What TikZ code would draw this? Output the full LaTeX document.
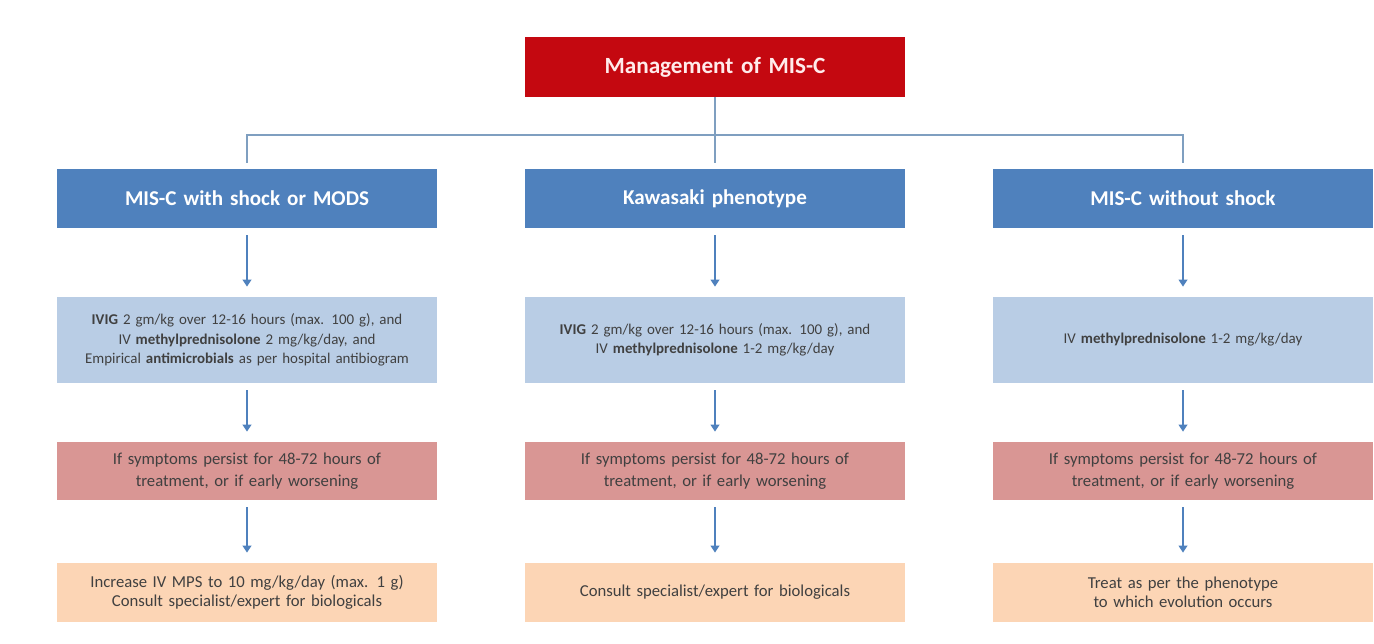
\documentclass[tikz,border=0pt]{standalone}
\usepackage{fontspec}
\setmainfont{Carlito}
\usetikzlibrary{arrows.meta}
\definecolor{titlered}{RGB}{196,8,16}
\definecolor{headblue}{RGB}{79,129,189}
\definecolor{rxblue}{RGB}{185,205,229}
\definecolor{ifpink}{RGB}{217,150,148}
\definecolor{nextpeach}{RGB}{252,213,181}
\definecolor{busgray}{RGB}{127,159,192}
\definecolor{txtgray}{RGB}{64,64,64}
\begin{document}
\begin{tikzpicture}[
  box/.style = {minimum width = 7.6cm, text width = 7.4cm, align = center, inner sep = 0pt},
  titlebox/.style = {box, fill = titlered, text = white!92!red, minimum height = 1.2cm, font = \fontsize{13.2}{15}\selectfont\bfseries},
  headbox/.style = {box, fill = headblue, text = white, minimum height = 1.18cm, font = \fontsize{12}{14}\selectfont\bfseries},
  rxbox/.style = {box, fill = rxblue, text = txtgray, minimum height = 1.72cm, font = \fontsize{8.5}{11}\selectfont},
  ifbox/.style = {box, fill = ifpink, text = txtgray, minimum height = 1.16cm, font = \fontsize{9.5}{12.5}\selectfont},
  nextbox/.style = {box, fill = nextpeach, text = txtgray, minimum height = 1.18cm, font = \fontsize{9.5}{10.8}\selectfont},
  bus/.style = {draw = busgray, line width = 0.8pt},
  flow/.style = {draw = headblue, line width = 0.8pt, -{Triangle[width = 5pt, length = 4pt]}, shorten < = 0.14cm, shorten > = 0.2cm}
]
\useasboundingbox (0,0) rectangle (27.48,12.86);
\node[titlebox] at (14.30,11.52) (misc) {Management of MIS-C};
\node[headbox] at (4.94,8.89) (shock) {MIS-C with shock or MODS};
\node[headbox] at (14.30,8.89) (kawa) {Kawasaki phenotype};
\node[headbox] at (23.66,8.89) (noshock) {MIS-C without shock};
\node[rxbox] at (4.94,6.06) (shockrx) {\textbf{IVIG} 2 gm/kg over 12-16 hours (max. 100 g), and\\ IV \textbf{methylprednisolone} 2 mg/kg/day, and\\ Empirical \textbf{antimicrobials} as per hospital antibiogram};
\node[rxbox] at (14.30,6.06) (kawarx) {\textbf{IVIG} 2 gm/kg over 12-16 hours (max. 100 g), and\\ IV \textbf{methylprednisolone} 1-2 mg/kg/day};
\node[rxbox] at (23.66,6.06) (noshockrx) {IV \textbf{methylprednisolone} 1-2 mg/kg/day};
\node[ifbox] at (4.94,3.44) (shockif) {If symptoms persist for 48-72 hours of\\ treatment, or if early worsening};
\node[ifbox] at (14.30,3.44) (kawaif) {If symptoms persist for 48-72 hours of\\ treatment, or if early worsening};
\node[ifbox] at (23.66,3.44) (noshockif) {If symptoms persist for 48-72 hours of\\ treatment, or if early worsening};
\node[nextbox] at (4.94,1.01) (shocknext) {Increase IV MPS to 10 mg/kg/day (max. 1 g)\\ Consult specialist/expert for biologicals};
\node[nextbox] at (14.30,1.01) (kawanext) {Consult specialist/expert for biologicals};
\node[nextbox] at (23.66,1.01) (noshocknext) {Treat as per the phenotype\\ to which evolution occurs};
% tree from the title
\coordinate (split) at (14.30,10.16);
\draw[bus, shorten > = 0.12cm] (misc.south) -- (kawa.north);
\draw[bus, shorten < = 0.12cm, shorten > = 0.12cm] (shock.north) |- (split) -| (noshock.north);
% arrows in each column
\draw[flow] (shock) -- (shockrx);
\draw[flow] (kawa) -- (kawarx);
\draw[flow] (noshock) -- (noshockrx);
\draw[flow] (shockrx) -- (shockif);
\draw[flow] (kawarx) -- (kawaif);
\draw[flow] (noshockrx) -- (noshockif);
\draw[flow] (shockif) -- (shocknext);
\draw[flow] (kawaif) -- (kawanext);
\draw[flow] (noshockif) -- (noshocknext);
\end{tikzpicture}
\end{document}
